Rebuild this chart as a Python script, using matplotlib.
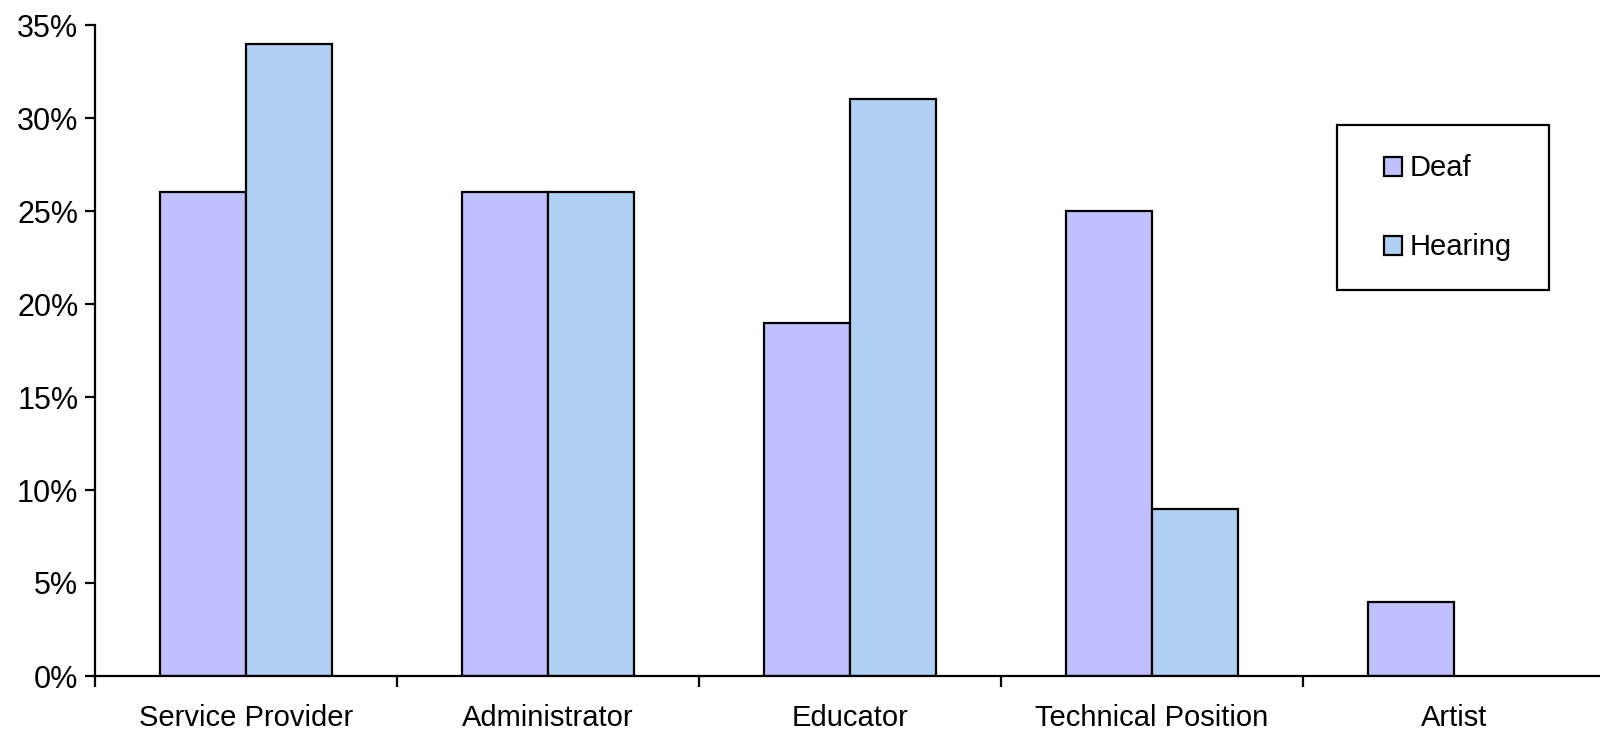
import matplotlib
matplotlib.use("Agg")
import matplotlib.pyplot as plt
import numpy as np
from matplotlib.patches import Rectangle
from matplotlib.ticker import FuncFormatter

plt.rcParams['font.family'] = ['Liberation Sans', 'DejaVu Sans']

categories = ["Service Provider", "Administrator", "Educator", "Technical Position", "Artist"]
deaf = [26, 26, 19, 25, 4]
hearing = [34, 26, 31, 9, 0]
series_names = ["Deaf", "Hearing"]
colors = ["#C0C0FF", "#B0D0F2"]

W, H = 1600, 731
fig = plt.figure(figsize=(W / 100, H / 100), dpi=100)
ax = fig.add_axes([95 / W, 1 - 676 / H, 1510 / W, 651 / H])

x = np.arange(len(categories)) + 0.5
bw = 0.285
for vals, name, col, off in [(deaf, series_names[0], colors[0], -bw / 2),
                             (hearing, series_names[1], colors[1], bw / 2)]:
    v = np.array(vals, dtype=float)
    mask = v > 0
    ax.bar(x[mask] + off, v[mask], width=bw, color=col, edgecolor="black",
           linewidth=1.6, label=name, zorder=2)

ax.set_xlim(0, len(categories))
ax.set_ylim(0, 35)
ax.set_yticks(np.arange(0, 36, 5))
ax.yaxis.set_major_formatter(FuncFormatter(lambda v, p: f"{int(v)}%"))
ax.set_xticks(np.arange(0, len(categories) + 1))
ax.set_xticklabels([])
ax.set_xticks(x, minor=True)
ax.set_xticklabels(categories, minor=True)
ax.tick_params(axis="x", which="minor", length=0, pad=20, labelsize=21)
ax.tick_params(axis="x", which="major", direction="out", length=8, width=1.6)
ax.tick_params(axis="y", direction="out", length=7, width=1.6, labelsize=22, pad=5)

for s in ["top", "right"]:
    ax.spines[s].set_visible(False)
for s in ["left", "bottom"]:
    ax.spines[s].set_linewidth(1.6)

# legend box
fig.patches.append(Rectangle((1337 / W, 1 - 290 / H), 212 / W, 165 / H,
                             transform=fig.transFigure, facecolor="white",
                             edgecolor="black", linewidth=1.6, zorder=5))
leg = fig.legend(loc="upper left", bbox_to_anchor=(1361 / W, 1 - 131 / H),
                 frameon=False, fontsize=21, handlelength=0.62, handleheight=0.62,
                 handletextpad=0.25, labelspacing=1.75, borderpad=0.3)
leg.set_zorder(6)

fig.savefig("out.png", dpi=100)
